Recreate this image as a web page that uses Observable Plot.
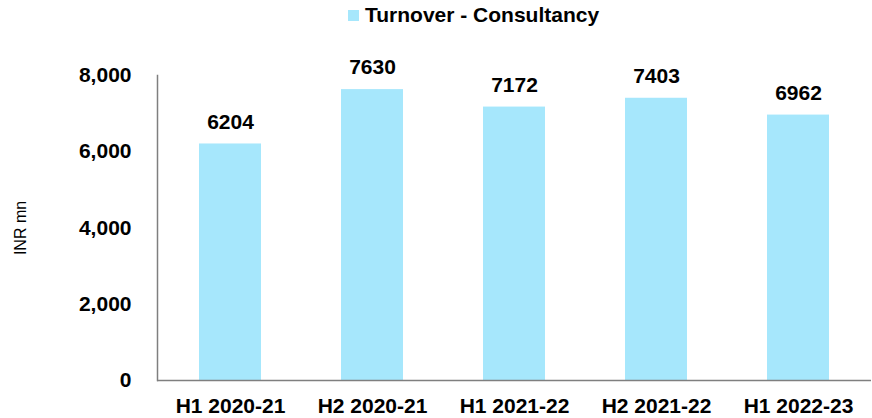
<!DOCTYPE html>
<html><head><meta charset="utf-8">
<script src="https://cdn.jsdelivr.net/npm/d3@7"></script>
<script src="https://cdn.jsdelivr.net/npm/@observablehq/plot@0.6"></script>
<style>
body{margin:0;background:#fff;font-family:"Liberation Sans",Arial,sans-serif;}
#legend{height:30px;display:flex;align-items:center;justify-content:flex-start;font-weight:bold;font-size:21px;color:#000;padding-left:348px;box-sizing:border-box;}
#legend .sw{width:11px;height:11px;background:#a6e7fc;margin-right:6px;margin-top:1px;}
</style></head>
<body>
<div id="legend"><span class="sw"></span><span>Turnover - Consultancy</span></div>
<div id="chart"></div>
<script>
const categories = ["H1 2020-21","H2 2020-21","H1 2021-22","H2 2021-22","H1 2022-23"];
const values = [6204, 7630, 7172, 7403, 6962];
const yTicks = [0, 2000, 4000, 6000, 8000];
const seriesName = "Turnover - Consultancy";
const data = categories.map((c,i)=>({cat:c, v:values[i]}));
const fmt = d3.format(",");
const chart = Plot.plot({
  width: 872, height: 388,
  marginLeft: 157, marginRight: 1, marginTop: 45, marginBottom: 38,
  style: {fontFamily: '"Liberation Sans", Arial, sans-serif', fontWeight: "bold", fontSize: "21px", color: "#000", background: "#fff"},
  x: {domain: categories, paddingInner: 0.566, paddingOuter: 0.283, label: null},
  y: {domain: [0, 8000], label: null},
  marks: [
    Plot.barY(data, {x: "cat", y: "v", fill: "#a6e7fc"}),
    Plot.text(data, {x: "cat", y: "v", text: d => String(d.v), dy: -22, fontSize: 21, fontWeight: "bold", fill: "#000"}),
    Plot.axisY({ticks: yTicks, tickFormat: fmt, tickSize: 0, tickPadding: 26, label: null, fontSize: 21, fontWeight: "bold"}),
    Plot.axisX({tickSize: 0, tickPadding: 18, label: null, fontSize: 21, fontWeight: "bold"}),
    Plot.frame({anchor: "left", stroke: "#7f7f7f", strokeWidth: 1.5}),
    Plot.ruleY([0], {stroke: "#7f7f7f", strokeWidth: 1.5}),
    Plot.text(["INR mn"], {frameAnchor: "left", textAnchor: "middle", rotate: -90, dx: -137, fontSize: 16, fontWeight: "normal", fill: "#000"})
  ]
});
document.getElementById("chart").appendChild(chart);
</script>
</body></html>
